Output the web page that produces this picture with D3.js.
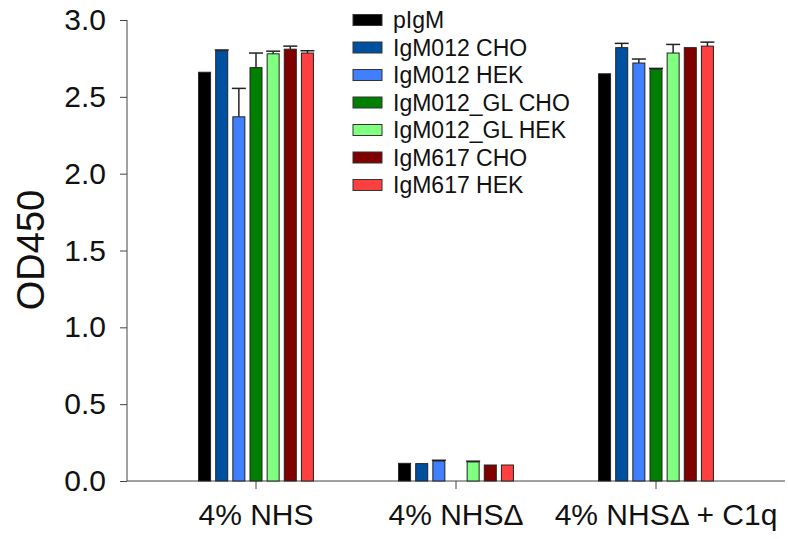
<!DOCTYPE html>
<html>
<head>
<meta charset="utf-8">
<script src="https://cdn.jsdelivr.net/npm/d3@7"></script>
<style>
  body { margin: 0; background: #fff; }
  svg text { font-family: "Liberation Sans", Arial, sans-serif; fill: #111; }
</style>
</head>
<body>
<div id="chart"></div>
<script>
// data
const groups = ["4% NHS", "4% NHS\u0394", "4% NHS\u0394 + C1q"];
const series = ["pIgM", "IgM012 CHO", "IgM012 HEK", "IgM012_GL CHO", "IgM012_GL HEK", "IgM617 CHO", "IgM617 HEK"];
const colors = ["#000000", "#0050a0", "#4080ff", "#008000", "#80ff80", "#800000", "#ff4040"];
const means = [
    [2.66, 0.115, 2.65],
    [2.80, 0.113, 2.82],
    [2.37, 0.130, 2.72],
    [2.69, null, 2.68],
    [2.78, 0.124, 2.785],
    [2.81, 0.104, 2.82],
    [2.785, 0.104, 2.83]
];
const errors = [
    [0, 0, 0],
    [0.005, 0, 0.028],
    [0.185, 0.005, 0.026],
    [0.095, 0, 0.005],
    [0.017, 0.005, 0.056],
    [0.02, 0, 0],
    [0.015, 0, 0.026]
];
const yTicks = [0, 0.5, 1.0, 1.5, 2.0, 2.5, 3.0];

const width = 788, height = 539;
const svg = d3.select("#chart").append("svg")
    .attr("width", width)
    .attr("height", height);

const y = d3.scaleLinear().domain([0, 3]).range([481, 20]);
const x0 = d3.scaleBand().domain(groups).range([156, 756]);
const x1 = d3.scaleBand().domain(series).range([-60, 60]).paddingInner(0.3).paddingOuter(0.15);
const axisLeft = 127, axisRight = 785;

// y axis
const yAxis = svg.append("g")
    .attr("transform", `translate(${axisLeft},0)`)
    .call(d3.axisLeft(y).tickValues(yTicks).tickFormat(d3.format(".1f")).tickSize(7).tickPadding(14));
yAxis.select(".domain").attr("stroke", "#444").attr("d", `M0,${y(3)}V${y(0)}`);
yAxis.selectAll(".tick line").attr("stroke", "#444");
yAxis.selectAll(".tick text").attr("font-size", 30).attr("fill", "#111");

// x axis line + ticks
svg.append("line")
    .attr("x1", axisLeft).attr("x2", axisRight)
    .attr("y1", y(0)).attr("y2", y(0))
    .attr("stroke", "#444");
const xAxis = svg.append("g")
    .attr("transform", `translate(0,${y(0)})`)
    .call(d3.axisBottom(x0).tickSize(8).tickPadding(15));
xAxis.select(".domain").remove();
xAxis.selectAll(".tick line").attr("stroke", "#444");
xAxis.selectAll(".tick text")
    .attr("font-size", 30)
    .attr("fill", "#111")
    .attr("dx", (d, i) => i === 2 ? 10 : 0);

// bars
const rows = [];
series.forEach((s, si) => {
    groups.forEach((g, gi) => {
        if (means[si][gi] == null) return;
        rows.push({ s, g, color: colors[si], v: means[si][gi], e: errors[si][gi] });
    });
});

const barG = svg.append("g");
barG.selectAll("rect")
    .data(rows)
    .join("rect")
    .attr("x", d => x0(d.g) + x0.bandwidth() / 2 + x1(d.s))
    .attr("y", d => y(d.v))
    .attr("width", x1.bandwidth())
    .attr("height", d => y(0) - y(d.v))
    .attr("fill", d => d.color)
    .attr("stroke", "#222")
    .attr("stroke-width", 1);

// error bars (upper only)
const errG = svg.append("g").attr("stroke", "#222").attr("stroke-width", 1.5);
rows.filter(d => d.e > 0).forEach(d => {
    const cx = x0(d.g) + x0.bandwidth() / 2 + x1(d.s) + x1.bandwidth() / 2;
    errG.append("line")
        .attr("x1", cx).attr("x2", cx)
        .attr("y1", y(d.v)).attr("y2", y(d.v + d.e));
    errG.append("line")
        .attr("x1", cx - x1.bandwidth() / 2 - 1).attr("x2", cx + x1.bandwidth() / 2 + 1)
        .attr("y1", y(d.v + d.e)).attr("y2", y(d.v + d.e));
});

// y title
svg.append("text")
    .attr("transform", "translate(44,250) rotate(-90)")
    .attr("text-anchor", "middle")
    .attr("font-size", 38)
    .text("OD450");

// legend
const legend = svg.append("g").attr("transform", "translate(353,20)");
const item = legend.selectAll("g")
    .data(series)
    .join("g")
    .attr("transform", (d, i) => `translate(0,${i * 27.5})`);
item.append("rect")
    .attr("x", 0).attr("y", -5.5)
    .attr("width", 29).attr("height", 11)
    .attr("fill", (d, i) => colors[i])
    .attr("stroke", "#333");
item.append("text")
    .attr("x", 40)
    .attr("dy", "0.35em")
    .attr("font-size", 23)
    .text(d => d);
</script>
</body>
</html>
